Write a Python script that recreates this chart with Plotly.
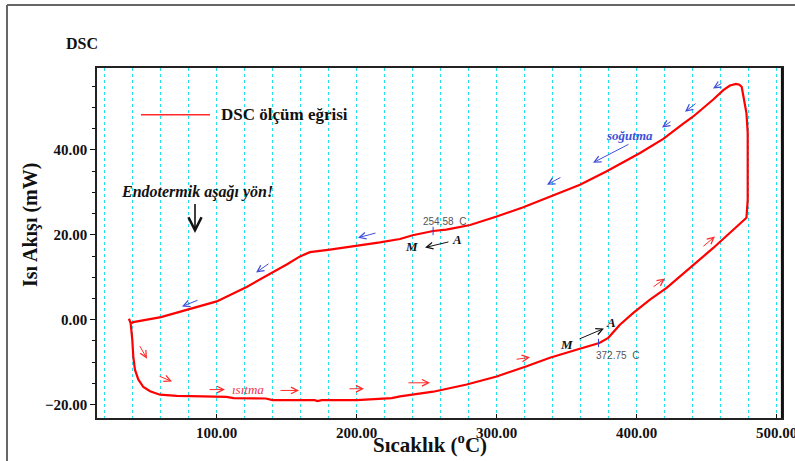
import plotly.graph_objects as go

# ---------------- data ----------------
heating_T = [37.3, 38.5, 39.7, 40.4, 41.6, 44.0, 47.6, 52.4, 59.5, 71.4, 90.0, 107.0,
             112.0, 135.0, 140.0, 170.0, 172.0, 175.0, 200.0, 218.0, 225.0, 231.0,
             254.7, 278.6, 300.0, 321.4, 338.0, 357.0, 373.3, 379.7, 388.0, 397.6,
             409.5, 421.4, 438.0, 454.7, 469.0, 478.4]
heating_Q = [0.2, -0.8, -4.7, -8.6, -11.8, -14.1, -15.9, -16.9, -17.7, -18.0, -18.1, -18.2,
             -18.5, -18.6, -19.0, -19.0, -19.2, -19.0, -19.0, -18.7, -18.5, -18.1,
             -17.0, -15.3, -13.4, -11.0, -9.0, -7.1, -5.5, -4.3, -1.2, 1.6,
             4.7, 7.5, 12.2, 16.9, 21.2, 24.0]
cooling_T = [479.3, 479.3, 478.4, 476.6, 475.0, 473.3, 470.9, 466.6, 461.9, 454.7,
             440.4, 433.3, 419.0, 402.4, 378.6, 359.5, 335.7, 319.0, 300.0, 281.0,
             264.0, 254.6, 240.0, 230.9, 216.6, 200.7, 180.9, 166.6, 159.5, 150.0,
             140.4, 121.4, 100.0, 80.2, 60.2, 40.4, 39.2]
cooling_Q = [28.3, 44.0, 48.7, 52.6, 54.9, 55.4, 55.6, 55.2, 54.1, 51.9,
             47.9, 46.2, 42.6, 39.3, 35.0, 31.8, 28.7, 26.5, 24.3, 22.3,
             21.2, 20.9, 19.9, 19.0, 18.2, 17.4, 16.5, 15.9, 14.9, 13.0,
             11.2, 7.7, 4.3, 2.4, 0.6, -0.6, -0.8]

marker_T = [254.58, 372.75]
marker_Q = [20.9, -5.5]
marker_labels = ["254.58  C", "372.75  C"]

x_tick_vals = [100, 200, 300, 400, 500]
y_tick_vals = [-20, 0, 20, 40]

title_text = "DSC"
legend_text = "DSC ölçüm eğrisi"
x_title = "Sıcaklık (<sup>o</sup>C)"
y_title = "Isı Akışı (mW)"

SERIF = "Liberation Serif, Times New Roman, serif"
SANS = "Liberation Sans, Arial, sans-serif"
CYAN = "#1fe2ee"
BLUE = "#4050d8"
RED = "#ff2a2a"

fig = go.Figure()

fig.add_trace(go.Scatter(
    x=heating_T + cooling_T, y=heating_Q + cooling_Q,
    mode="lines", name=legend_text,
    line=dict(color="#ff0000", width=2.2),
    showlegend=False,
))
fig.add_trace(go.Scatter(
    x=marker_T, y=marker_Q, mode="markers",
    marker=dict(symbol="line-ns-open", size=6, color="#3040d0", line=dict(width=1, color="#3040d0")),
    showlegend=False, hoverinfo="skip",
))

annotations = []

# title and axis titles
annotations.append(dict(text="<b>" + title_text + "</b>", xref="paper", yref="paper",
                        x=-0.022, y=1.071, showarrow=False, xanchor="center", yanchor="middle",
                        font=dict(family=SERIF, size=16, color="#111")))
annotations.append(dict(text="<b>" + x_title + "</b>", xref="paper", yref="paper",
                        x=0.486, y=-0.072, showarrow=False, xanchor="center", yanchor="middle",
                        font=dict(family=SERIF, size=21, color="#111")))
annotations.append(dict(text="<b>" + y_title + "</b>", xref="paper", yref="paper",
                        x=-0.098, y=0.551, showarrow=False, textangle=-90,
                        xanchor="center", yanchor="middle",
                        font=dict(family=SERIF, size=20, color="#111")))

# legend (drawn manually)
annotations.append(dict(text="<b>" + legend_text + "</b>", xref="x", yref="y",
                        x=101.6, y=48.3, xanchor="left", showarrow=False,
                        font=dict(family=SERIF, size=17, color="#111")))

# endothermic note
annotations.append(dict(text="<b><i>Endotermik aşağı yön!</i></b>", xref="x", yref="y",
                        x=86.0, y=30.2, showarrow=False,
                        font=dict(family=SERIF, size=16, color="#111")))
annotations.append(dict(x=84.5, y=20.4, ax=84.5, ay=27.6, xref="x", yref="y",
                        axref="x", ayref="y", text="", showarrow=True,
                        arrowhead=5, arrowsize=1.6, arrowwidth=1.6, arrowcolor="#111"))

# marker labels
annotations.append(dict(text=marker_labels[0], xref="x", yref="y", x=262.4, y=23.1,
                        showarrow=False, font=dict(family=SANS, size=10, color="#555")))
annotations.append(dict(text=marker_labels[1], xref="x", yref="y", x=386.6, y=-8.5,
                        showarrow=False, font=dict(family=SANS, size=10, color="#555")))

# process labels
annotations.append(dict(text="<b><i>soğutma</i></b>", xref="x", yref="y", x=395.2, y=43.4,
                        showarrow=False, font=dict(family=SERIF, size=13, color=BLUE)))
annotations.append(dict(text="<i>ısıtma</i>", xref="x", yref="y", x=122.4, y=-16.5,
                        showarrow=False, font=dict(family=SERIF, size=13, color="#f0344a")))

for txt, x, y in [("M", 350.2, -5.9), ("A", 381.6, -0.7), ("M", 239.5, 17.2), ("A", 271.6, 18.9)]:
    annotations.append(dict(text="<b><i>" + txt + "</i></b>", xref="x", yref="y", x=x, y=y,
                            showarrow=False, font=dict(family=SERIF, size=13, color="#111")))

# small direction arrows: (tail_x, tail_y, head_x, head_y)
blue_arrows = [(461.6, 55.9, 454.5, 54.5), (443.1, 51.2, 434.5, 49.0),
               (425.2, 46.9, 418.1, 45.3), (346.6, 33.7, 335.9, 31.8),
               (395.2, 41.5, 368.8, 37.0), (214.5, 20.5, 200.9, 19.3),
               (138.1, 13.4, 128.1, 11.1), (87.4, 4.7, 75.2, 3.1)]
red_arrows = [(44.5, -5.9, 50.2, -9.2), (58.1, -13.2, 68.1, -14.6),
              (93.8, -16.5, 105.9, -16.5), (144.5, -16.7, 158.8, -16.7),
              (193.8, -16.3, 205.2, -16.3), (235.9, -14.9, 252.4, -14.9),
              (313.1, -9.4, 323.8, -8.9), (411.0, 7.5, 420.2, 9.7),
              (446.6, 17.0, 455.9, 19.6)]
black_arrows = [(358.1, -4.7, 376.6, -2.1), (266.6, 18.4, 248.8, 17.0)]

for group, col in [(blue_arrows, BLUE), (red_arrows, RED), (black_arrows, "#111")]:
    for tx, ty, hx, hy in group:
        annotations.append(dict(x=hx, y=hy, ax=tx, ay=ty, xref="x", yref="y",
                                axref="x", ayref="y", text="", showarrow=True,
                                arrowhead=5, arrowsize=1.3, arrowwidth=1, arrowcolor=col))

shapes = [
    # white box that interrupts the grid behind the note
    dict(type="rect", xref="paper", yref="y", x0=0.002, x1=0.31, y0=17.4, y1=33.0,
         fillcolor="white", line=dict(width=0), layer="between"),
    # legend line
    dict(type="line", xref="x", yref="y", x0=45.9, x1=95.2, y0=48.3, y1=48.3,
         line=dict(color=RED, width=1.6)),
    # thicker right border
    dict(type="line", xref="paper", yref="paper", x0=1.0, x1=1.0, y0=0, y1=1,
         line=dict(color="#111", width=2.2)),
    # outer frame (top and left)
    dict(type="line", xref="paper", yref="paper", x0=-0.1314, x1=1.02, y0=1.18, y1=1.18,
         line=dict(color="#666", width=2)),
    dict(type="line", xref="paper", yref="paper", x0=-0.1314, x1=-0.1314, y0=-0.13, y1=1.18,
         line=dict(color="#666", width=2)),
]

fig.update_layout(
    width=795, height=461,
    margin=dict(l=97, r=13, t=68, b=43, autoexpand=False),
    paper_bgcolor="white", plot_bgcolor="white",
    annotations=annotations, shapes=shapes,
    showlegend=False,
    xaxis=dict(
        range=[14.5, 503.8], tickvals=x_tick_vals, tickformat=".2f",
        ticks="inside", ticklen=4, tickcolor="#111", ticklabeloverflow="allow",
        automargin=False,
        showgrid=True, gridcolor=CYAN, griddash="dot", gridwidth=1.3,
        minor=dict(dtick=20, tick0=0, showgrid=True, gridcolor=CYAN, griddash="dot",
                   gridwidth=1.3, ticks=""),
        showline=True, linecolor="#222", linewidth=1.5, mirror=True,
        zeroline=False,
        tickfont=dict(family=SERIF, size=15, color="#111", weight="bold"),
    ),
    yaxis=dict(
        range=[-23.2, 59.33], tickvals=y_tick_vals, tickformat=".2f",
        ticks="outside", ticklen=5, tickcolor="#111", automargin=False,
        minor=dict(dtick=5, tick0=0, ticks="outside", ticklen=3, tickcolor="#111", showgrid=False),
        showgrid=False, zeroline=False,
        showline=True, linecolor="#222", linewidth=1.5, mirror=True,
        tickfont=dict(family=SERIF, size=15, color="#111", weight="bold"),
    ),
)

fig.write_html("out.html",
               config={"displayModeBar": False},
               post_script="document.body.style.margin='0px';document.body.style.overflow='hidden';")
